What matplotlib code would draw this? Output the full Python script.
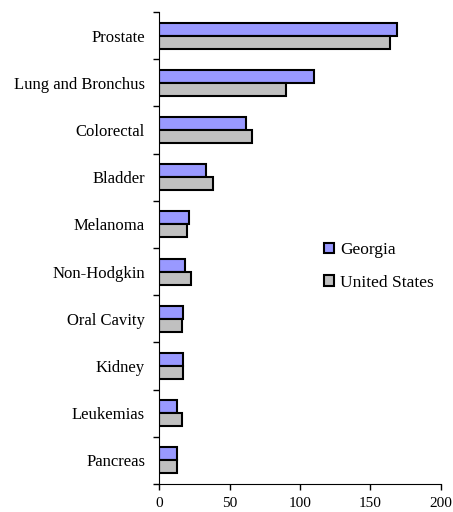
import matplotlib
matplotlib.use("Agg")
import matplotlib.pyplot as plt
import numpy as np
from matplotlib.patches import Patch

categories = ["Prostate", "Lung and Bronchus", "Colorectal", "Bladder", "Melanoma",
              "Non-Hodgkin", "Oral Cavity", "Kidney", "Leukemias", "Pancreas"]
georgia = [168.5, 110, 61.5, 33, 21.5, 18.5, 17, 17, 13, 13]
united_states = [164, 90, 66, 38.5, 20, 23, 16, 17, 16, 13]

plt.rcParams["font.family"] = ["Liberation Serif", "DejaVu Serif"]

fig = plt.figure(figsize=(4.53, 5.12), dpi=100)
ax = fig.add_axes([0.351, 0.0547, 0.6225, 0.922])

n = len(categories)
y = np.arange(n)
h = 0.275
ax.barh(y - h / 2, georgia, height=h, color="#9999FF", edgecolor="black", linewidth=1.5)
ax.barh(y + h / 2, united_states, height=h, color="#C0C0C0", edgecolor="black", linewidth=1.5)

ax.set_ylim(n - 0.5, -0.5)
ax.set_xlim(0, 200)
ax.set_xticks([0, 50, 100, 150, 200])
ax.set_yticks(y)
ax.set_yticklabels(categories, fontsize=12)
ax.tick_params(axis="y", length=0, pad=10)
ax.set_yticks(np.arange(n + 1) - 0.5, minor=True)
ax.tick_params(axis="y", which="minor", length=4, width=1)
ax.tick_params(axis="x", length=4, width=1, labelsize=11, pad=5.5)
for s in ["top", "right"]:
    ax.spines[s].set_visible(False)

handles = [Patch(facecolor="#9999FF", edgecolor="black", linewidth=1.5, label="Georgia"),
           Patch(facecolor="#C0C0C0", edgecolor="black", linewidth=1.5, label="United States")]
fig.legend(handles=handles, loc="upper left", bbox_to_anchor=(0.701, 0.541),
           frameon=False, fontsize=12.5, handlelength=0.55, handleheight=0.55,
           handletextpad=0.35, labelspacing=0.97, borderaxespad=0)

fig.savefig("out.png", dpi=100)
